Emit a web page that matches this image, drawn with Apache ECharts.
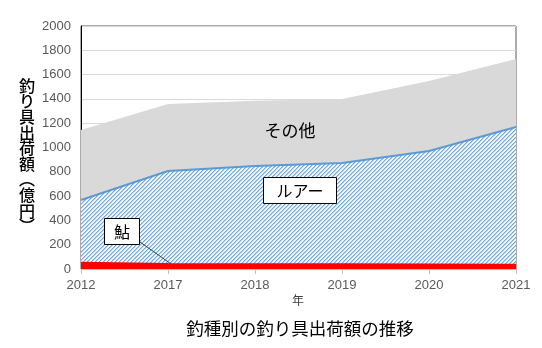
<!DOCTYPE html>
<html><head><meta charset="utf-8">
<script src="https://cdn.jsdelivr.net/npm/echarts@6/dist/echarts.min.js"></script>
<style>html,body{margin:0;padding:0;background:#fff}#c{width:542px;height:348px}</style>
</head><body><div id="c"></div>
<script>
const years = ['2012','2017','2018','2019','2020','2021'];
const ayu = [52, 42, 40, 39, 37, 36];          // 鮎
const lureTop = [568, 806, 848, 872, 971, 1169]; // cumulative top of ルアー
const totalTop = [1144, 1358, 1385, 1399, 1547, 1728]; // cumulative top of その他
const yTicks = [0, 200, 400, 600, 800, 1000, 1200, 1400, 1600, 1800, 2000];

const lure = lureTop.map((v, i) => v - ayu[i]);
const other = totalTop.map((v, i) => v - lureTop[i]);

// hatch pattern
const pc = document.createElement('canvas');
pc.width = 4; pc.height = 4;
const px = pc.getContext('2d');
for (let yy = 0; yy < 4; yy++) for (let xx = 0; xx < 4; xx++) {
  const k = (xx + yy) % 4;
  px.fillStyle = k === 0 ? '#6fa8dc' : (k === 1 ? '#b3d0ee' : (k === 3 ? '#e8f1fa' : '#ffffff'));
  px.fillRect(xx, yy, 1, 1);
}

const JP = '"Noto Sans CJK JP", sans-serif';
const chart = echarts.init(document.getElementById('c'));
chart.setOption({
  animation: false,
  grid: {left: 81, right: 26, top: 26, bottom: 79, show: true, borderColor: '#595959', borderWidth: 1, backgroundColor: 'transparent'},
  xAxis: {
    type: 'category', data: years, boundaryGap: false,
    axisLine: {show: true, lineStyle: {color: '#bfbfbf'}},
    axisTick: {show: true, lineStyle: {color: '#bfbfbf'}, length: 5},
    axisLabel: {color: '#595959', fontSize: 13, fontFamily: 'Liberation Sans, Arial', margin: 10},
    splitLine: {show: false}
  },
  yAxis: {
    type: 'value', min: yTicks[0], max: yTicks[yTicks.length - 1], interval: 200,
    axisLine: {show: true, lineStyle: {color: '#000000'}},
    axisTick: {show: false},
    axisLabel: {color: '#595959', fontSize: 13, fontFamily: 'Liberation Sans, Arial', margin: 10, formatter: v => String(v)},
    splitLine: {show: true, lineStyle: {color: '#d9d9d9', width: 1}}
  },
  series: [
    {name: '鮎', type: 'line', stack: 's', data: ayu, symbol: 'none',
     lineStyle: {color: '#ff0000', width: 2}, areaStyle: {color: '#ff0000', opacity: 1}, z: 4},
    {name: 'ルアー', type: 'line', stack: 's', data: lure, symbol: 'none',
     lineStyle: {color: '#5b9bd5', width: 2}, areaStyle: {color: {image: pc, repeat: 'repeat'}, opacity: 1}, z: 3},
    {name: 'その他', type: 'line', stack: 's', data: other, symbol: 'none',
     lineStyle: {color: '#d9d9d9', width: 0}, areaStyle: {color: '#d9d9d9', opacity: 1}, z: 2}
  ]
});

const yChars = ['釣','り','具','出','荷','額','︵','億','円','︶'];
const p = chart.convertToPixel({gridIndex: 0}, ['2017', ayu[1]]);
chart.setOption({
  graphic: [
    {type: 'text', x: 27, y: 78, z: 10, style: {text: yChars.join('\n'), font: '500 16px ' + JP, fill: '#000', lineHeight: 15.6, align: 'center'}},
    {type: 'text', x: 300, y: 328, z: 10, style: {text: '釣種別の釣り具出荷額の推移', font: '17.5px ' + JP, fill: '#000', align: 'center', verticalAlign: 'middle'}},
    {type: 'text', x: 298, y: 300, z: 10, style: {text: '年', font: '12px ' + JP, fill: '#404040', align: 'center', verticalAlign: 'middle'}},
    {type: 'text', x: 290, y: 131, z: 10, style: {text: 'その他', font: '17px ' + JP, fill: '#000', align: 'center', verticalAlign: 'middle'}},
    {type: 'line', shape: {x1: 140, y1: 242, x2: p[0] + 3, y2: p[1]}, style: {stroke: '#404040', lineWidth: 1}, z: 10},
    {type: 'rect', shape: {x: 263.5, y: 177.5, width: 73, height: 26}, style: {fill: '#fff', stroke: '#000', lineWidth: 1}, z: 10},
    {type: 'text', x: 300, y: 191, style: {text: 'ルアー', font: '16px ' + JP, fill: '#000', align: 'center', verticalAlign: 'middle'}, z: 11},
    {type: 'rect', shape: {x: 104.5, y: 218.5, width: 35, height: 26}, style: {fill: '#fff', stroke: '#000', lineWidth: 1}, z: 10},
    {type: 'text', x: 122, y: 232, style: {text: '鮎', font: '16px ' + JP, fill: '#000', align: 'center', verticalAlign: 'middle'}, z: 11}
  ]
});
</script></body></html>
